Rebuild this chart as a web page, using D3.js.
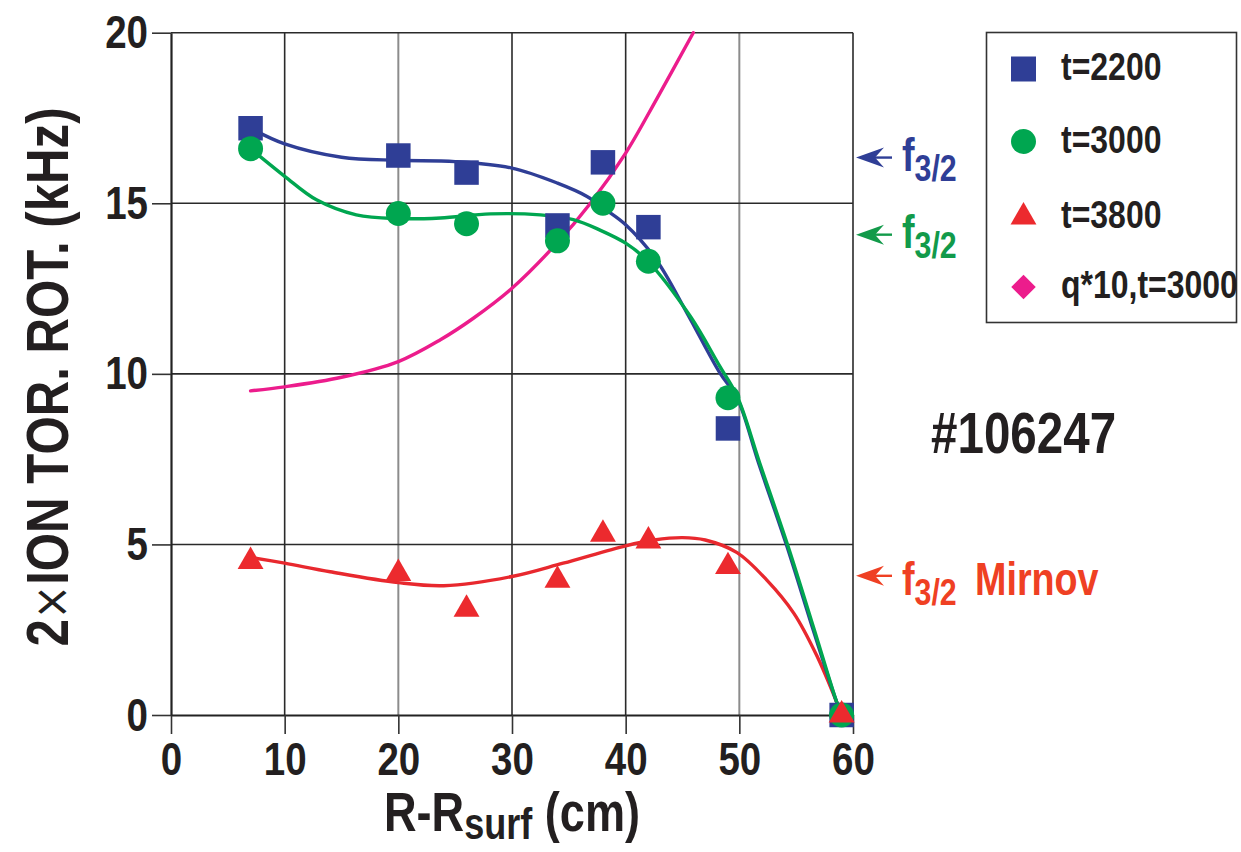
<!DOCTYPE html>
<html>
<head>
<meta charset="utf-8">
<script src="https://cdn.jsdelivr.net/npm/d3@7"></script>
<style>
  body { margin: 0; background: #fff; }
  svg { display: block; font-family: "Liberation Sans", Arial, Helvetica, sans-serif; font-weight: bold; }
</style>
</head>
<body>
<svg id="chart" width="1241" height="852"></svg>
<script>
// measured points, R-Rsurf (cm) vs 2x ion toroidal rotation (kHz)
const radius = [7, 20, 26, 34, 38, 42, 49, 59];
const rot2200 = [17.2, 16.4, 15.9, 14.35, 16.2, 14.3, 8.4, 0];
const rot3000 = [16.6, 14.7, 14.4, 13.9, 15.0, 13.3, 9.3, 0];
const rot3800 = [4.5, 4.15, 3.1, 3.95, 5.3, 5.1, 4.35, 0];

// fitted curves [x, y]
const fit2200 = [[7,17.2],[10,16.74],[15,16.35],[20,16.26],[25,16.22],[30,16.03],[34,15.59],[36.6,15.2],[38.3,14.8],[40,14.37],[42.7,13.34],[45.4,11.78],[48.3,10.02],[49.8,9.3],[51.7,7.38],[54.2,4.93],[56.5,2.49],[58.6,0.34],[59,0]];
const fit3000 = [[7,16.6],[10,15.79],[12.8,15.1],[16.3,14.66],[20,14.55],[23.7,14.57],[28.1,14.69],[32.5,14.66],[35.4,14.52],[37.7,14.22],[40,13.83],[41.9,13.32],[45.7,11.68],[48.3,10.21],[49.8,9.35],[51.8,7.38],[54.3,4.93],[56.6,2.49],[58.6,0.34],[59,0]];
const fit3800 = [[7,4.62],[10,4.45],[14,4.2],[20,3.88],[24,3.79],[30,4.06],[34.5,4.45],[40,4.96],[42.5,5.13],[45,5.2],[47,5.13],[49.8,4.76],[52.4,3.96],[54.8,2.98],[56.8,1.75],[58.6,0.35],[59,0]];
const qProfile = [[7,9.5],[10,9.62],[15,9.9],[20,10.36],[23.7,11.0],[26.6,11.63],[30,12.51],[33.95,13.83],[36.9,15.0],[40,16.47],[42.7,18.04],[45.95,20]];

const xTicks = [0, 10, 20, 30, 40, 50, 60];
const yTicks = [0, 5, 10, 15, 20];
const legendLabels = ["t=2200", "t=3000", "t=3800", "q*10,t=3000"];
const arrowValues = [16.34, 14.08, 4.08];
const shotLabel = "#106247";

const BLUE = "#2f3e96", GREEN = "#00a650", RED = "#ec2a2e", PINK = "#ec1c8c", INK = "#231f20";
const SX = 0.82; // condensed look

const svg = d3.select("#chart");
const x = d3.scaleLinear().domain([0, 60]).range([171, 853]);
const y = d3.scaleLinear().domain([0, 20]).range([715, 32.7]);

// text squeezed horizontally, anchored at (px, py)
function ntext(px, py, size, fill, anchor) {
  return svg.append("g").attr("transform", `translate(${px},${py}) scale(${SX},1)`)
    .append("text").attr("font-size", size).attr("fill", fill)
    .attr("text-anchor", anchor || "start");
}

// grid
const grid = svg.append("g");
grid.selectAll(".vg").data(xTicks.slice(1)).join("line")
  .attr("x1", d => x(d)).attr("x2", d => x(d))
  .attr("y1", y(20)).attr("y2", y(0))
  .attr("stroke", d => (d === 20 || d === 50) ? "#8c8c8c" : "#2a2a2a")
  .attr("stroke-width", d => (d === 20 || d === 50) ? 2 : 1.6);
grid.selectAll(".hg").data(yTicks.slice(1)).join("line")
  .attr("x1", x(0)).attr("x2", x(60))
  .attr("y1", d => y(d)).attr("y2", d => y(d))
  .attr("stroke", "#2a2a2a").attr("stroke-width", 1.6);

// axes
const xAxis = svg.append("g").attr("transform", `translate(0,${y(0)})`)
  .call(d3.axisBottom(x).tickValues(xTicks).tickSize(19).tickSizeOuter(0).tickPadding(8));
const yAxis = svg.append("g").attr("transform", `translate(${x(0)},0)`)
  .call(d3.axisLeft(y).tickValues(yTicks).tickSize(19).tickSizeOuter(0));
[xAxis, yAxis].forEach(a => {
  a.select(".domain").attr("stroke", "#222").attr("stroke-width", 2.2);
  a.selectAll(".tick line").attr("stroke", "#333").attr("stroke-width", 1.6);
  a.selectAll(".tick text").attr("fill", INK)
    .attr("transform", `scale(${SX},1)`)
    .style("font-family", "inherit").style("font-weight", "bold").style("font-size", "47px");
});
yAxis.selectAll(".tick text").attr("x", -23 / SX);

// fitted curves
const line = d3.line().x(d => x(d[0])).y(d => y(d[1])).curve(d3.curveCatmullRom.alpha(0.5));
[[qProfile, PINK], [fit3800, "#e8282e"], [fit2200, BLUE], [fit3000, GREEN]].forEach(([pts, c]) => {
  svg.append("path").attr("d", line(pts)).attr("fill", "none")
    .attr("stroke", c).attr("stroke-width", 3.4).attr("stroke-linecap", "round");
});

// markers
const series = [
  { vals: rot2200, color: BLUE, sym: d3.symbolSquare, size: 600 },
  { vals: rot3000, color: GREEN, sym: d3.symbolCircle, size: 490 },
  { vals: rot3800, color: RED, sym: d3.symbolTriangle, size: 290 }
];
series.forEach(s => {
  svg.append("g").selectAll("path").data(s.vals).join("path")
    .attr("transform", (d, i) => `translate(${x(radius[i])},${y(d)})`)
    .attr("d", d3.symbol().type(s.sym).size(s.size)())
    .attr("fill", s.color);
});

// legend
const leg = svg.append("g");
leg.append("rect").attr("x", 986.5).attr("y", 32.5).attr("width", 250).attr("height", 290)
  .attr("fill", "#fff").attr("stroke", "#333").attr("stroke-width", 1.6);
const legSyms = [
  { sym: d3.symbolSquare, size: 625, color: BLUE, rot: 0 },
  { sym: d3.symbolCircle, size: 490, color: GREEN, rot: 0 },
  { sym: d3.symbolTriangle, size: 290, color: RED, rot: 0 },
  { sym: d3.symbolSquare, size: 300, color: PINK, rot: 45 }
];
const legY = [69, 141.5, 217, 287];
legendLabels.forEach((lab, i) => {
  const s = legSyms[i];
  leg.append("path")
    .attr("transform", `translate(1023.5,${legY[i]}) rotate(${s.rot})`)
    .attr("d", d3.symbol().type(s.sym).size(s.size)())
    .attr("fill", s.color);
  ntext(1061, legY[i] + 11, 39, INK).text(lab);
});

// arrows with f3/2 labels
const arrowColors = [BLUE, "#129a4a", "#ef4023"];
arrowValues.forEach((v, i) => {
  const yy = y(v);
  const c = arrowColors[i];
  svg.append("line").attr("x1", 874).attr("x2", 892).attr("y1", yy).attr("y2", yy)
    .attr("stroke", c).attr("stroke-width", 2.4);
  svg.append("path")
    .attr("d", `M856,${yy} L884,${yy - 10} L875,${yy} L884,${yy + 10} Z`)
    .attr("fill", c);
  const base = i === 2 ? yy + 19 : yy + 13;
  const t = ntext(902, base, 46, c);
  t.append("tspan").text("f");
  t.append("tspan").attr("font-size", 37).attr("dy", 10).text("3/2");
  if (i === 2) {
    t.append("tspan").attr("x", (975 - 902) / SX).attr("y", 0).text("Mirnov");
  }
});

// shot number
ntext(931, 453, 58, INK).text(shotLabel);

// axis titles
const xt = ntext(384, 831, 55, INK);
xt.append("tspan").text("R-R");
xt.append("tspan").attr("font-size", 44).attr("dy", 8).text("surf");
xt.append("tspan").attr("dy", -8).text(" (cm)");

const yt = svg.append("g").attr("transform", "translate(68,377) rotate(-90) scale(" + SX + ",1)")
  .append("text").attr("text-anchor", "middle").attr("font-size", 60).attr("fill", INK);
yt.append("tspan").text("2");
yt.append("tspan").attr("font-weight", "normal").attr("font-family", "DejaVu Sans").attr("font-size", 50).text("×");
yt.append("tspan").text("ION TOR. ROT. (kHz)");
</script>
</body>
</html>
